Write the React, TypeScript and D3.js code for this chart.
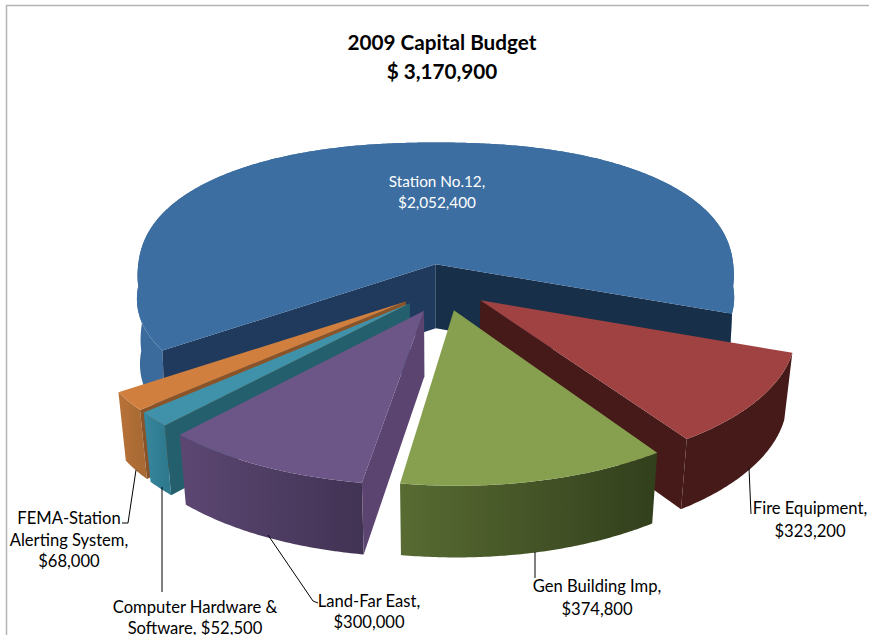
import React from "react";
import * as d3 from "d3";

const categories = [
  "Station No.12",
  "Fire Equipment",
  "Gen Building Imp",
  "Land-Far East",
  "Computer Hardware & Software",
  "FEMA-Station Alerting System",
];
const amounts = [2052400, 323200, 374800, 300000, 52500, 68000];

const topColors = ["#3c6ea1", "#9f4241", "#86a04f", "#6c5587", "#4092aa", "#d07f3e"];
const wallLeft = ["#3b6b9c", "#451a18", "#586b32", "#5c4772", "#37889f", "#b87238"];
const wallRight = ["#3b6b9c", "#451a18", "#323f1c", "#413354", "#2f7a8f", "#a96a34"];
const startFace = ["#1f3a5c", "#451a18", "#323f1c", "#5b4470", "#235f6c", "#8a5428"];
const endFace = ["#172f48", "#451a18", "#323f1c", "#413354", "#235f6c", "#8a5428"];
const paintOrder = [0, 1, 2, 5, 4, 3];
// small per slice nudges, excel does not quite explode them evenly
const nudgeX = [3, 0, 3, 6, 6, 6];
const nudgeY = [0, 0, 2, 4, 1, 1];

const width = 869;
const height = 635;
const cx = 440;
const cy = 286;
const R = 300;
const Rk = 130;
const explode = 0.17;

const deg = Math.PI / 180;
const pie = d3
  .pie<number>()
  .sort(null)
  .startAngle(235 * deg)
  .endAngle(595 * deg);
const arcs = pie(amounts);

// the drawn pie is a bit squeezed towards the front, same correction as the picture
const warp = d3
  .scaleLinear()
  .domain([235, 468, 504.7, 547.2, 595])
  .range([234, 471, 507.7, 548.3, 594]);

const project = (X: number, Y: number): [number, number] => {
  const p = Y > 0 ? 0.2 : 0.05;
  const s = 1 / (1 - p * Y);
  return [cx + R * X * s, cy + Rk * Y * s];
};

const lower =
  (inward: number) =>
  ([x, y]: [number, number]): [number, number] => [
    cx + (x - cx) * inward,
    y + 64 + (y - 265) * 0.035,
  ];

const line = d3.line();
const closed = (pts: [number, number][]) => line(pts) + "Z";
// the big slice has squarer shoulders than a true ellipse
const bulge = (v: number, n: number) => Math.sign(v) * Math.pow(Math.abs(v), n);

const slices = arcs.map((a, i) => {
  const a0 = warp(a.startAngle / deg) * deg;
  const a1 = (warp(a.endAngle / deg) - (i === 0 ? 1.5 : 0)) * deg;
  const mid = (a0 + a1) / 2;
  const ax = explode * Math.sin(mid);
  const ay = -explode * Math.cos(mid);
  const n = i === 0 ? 0.9 : 1;
  const down = lower(i === 0 ? 0.99 : 0.977);
  const place = (X: number, Y: number): [number, number] => {
    const [x, y] = project(X + ax, Y + ay);
    return [x + nudgeX[i], y + nudgeY[i]];
  };
  const rim = d3
    .range(a0, a1, 0.5 * deg)
    .concat(a1)
    .map((t) => place(bulge(Math.sin(t), n), -bulge(Math.cos(t), n)));
  const apex = place(0, 0);
  const top = closed([apex, ...rim]);
  const wall = closed([...rim, ...rim.map(down).reverse()]);
  const first = rim[0];
  const last = rim[rim.length - 1];
  // radial face shows only when the viewer stands on its outer side
  const vx = -ax;
  const vy = 5 - ay;
  const showStart = -Math.cos(a0) * vx - Math.sin(a0) * vy > 0;
  const showEnd = Math.cos(a1) * vx + Math.sin(a1) * vy > 0;
  const faceA = closed([apex, first, down(first), down(apex)]);
  const faceB = closed([apex, last, down(last), down(apex)]);
  const xs = rim.map((d) => d[0]);
  return { i, top, wall, faceA, faceB, showStart, showEnd, x0: d3.min(xs), x1: d3.max(xs) };
});

const leaders: [number, number][][] = [
  [[136, 470], [128, 523], [122, 523]],
  [[162, 487], [162, 592]],
  [[268, 535], [313, 601], [318, 603]],
  [[535, 552], [535, 578]],
  [[749, 468], [751, 514]],
];

const labels: { x: number; y: number; t: string; size?: number; fill?: string }[] = [
  { x: 437, y: 187, t: "Station No.12,", size: 15.3, fill: "#fff" },
  { x: 437, y: 208, t: "$2,052,400", size: 15.3, fill: "#fff" },
  { x: 810, y: 514, t: "Fire Equipment," },
  { x: 810, y: 537, t: "$323,200" },
  { x: 597, y: 592, t: "Gen Building Imp," },
  { x: 597, y: 615, t: "$374,800" },
  { x: 369, y: 607, t: "Land-Far East," },
  { x: 369, y: 628, t: "$300,000" },
  { x: 195, y: 613, t: "Computer Hardware &" },
  { x: 195, y: 634, t: "Software, $52,500" },
  { x: 69, y: 524, t: "FEMA-Station" },
  { x: 69, y: 546, t: "Alerting System," },
  { x: 69, y: 567, t: "$68,000" },
];

export default function App() {
  return (
    <svg
      width={width}
      height={height}
      viewBox={`0 0 ${width} ${height}`}
      style={{ position: "absolute", left: 0, top: 0, background: "#fff" }}
      fontFamily="Lato, sans-serif"
    >
      <title>{categories.join(", ")}</title>
      <defs>
        {slices.map((s) => (
          <linearGradient
            key={s.i}
            id={`wall${s.i}`}
            gradientUnits="userSpaceOnUse"
            x1={s.x0}
            x2={s.x1}
            y1={0}
            y2={0}
          >
            <stop offset="0" stopColor={wallLeft[s.i]} />
            <stop offset="1" stopColor={wallRight[s.i]} />
          </linearGradient>
        ))}
      </defs>
      <path d="M6.5 635V5.5H869" fill="none" stroke="#b3b3b3" strokeWidth={1.5} />

      <text x={442} y={50} textAnchor="middle" fontSize={20.7} fontWeight="bold">
        2009 Capital Budget
      </text>
      <text x={442} y={79} textAnchor="middle" fontSize={20.7} fontWeight="bold">
        $ 3,170,900
      </text>

      {paintOrder.map((k) => {
        const s = slices[k];
        return (
          <g key={k}>
            <path d={s.wall} fill={`url(#wall${k})`} />
            {s.showStart && <path d={s.faceA} fill={startFace[k]} />}
            {s.showEnd && <path d={s.faceB} fill={endFace[k]} />}
            <path d={s.top} fill={topColors[k]} />
          </g>
        );
      })}

      {leaders.map((pts, i) => (
        <path key={i} d={line(pts) as string} fill="none" stroke="#000" strokeWidth={1} />
      ))}
      {labels.map((l) => (
        <text
          key={l.t}
          x={l.x}
          y={l.y}
          textAnchor="middle"
          fontSize={l.size ?? 16.6}
          fill={l.fill ?? "#000"}
        >
          {l.t}
        </text>
      ))}
    </svg>
  );
}
